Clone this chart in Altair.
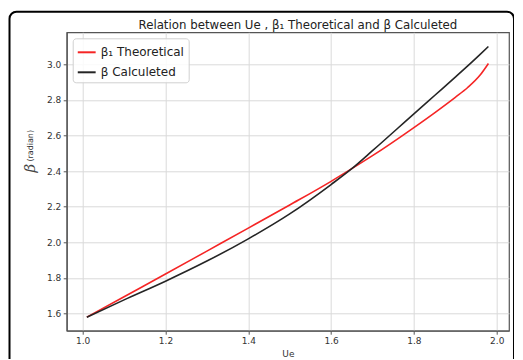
import altair as alt
import pandas as pd

ue = [1.01, 1.1, 1.2, 1.3, 1.4, 1.5, 1.6, 1.65, 1.7, 1.8, 1.85, 1.9, 1.93, 1.96, 1.98]
beta1_theoretical = [1.58, 1.695, 1.822, 1.951, 2.08, 2.21, 2.343, 2.414, 2.487, 2.645, 2.728, 2.815, 2.87, 2.94, 3.005]
beta_calculated = [1.58, 1.677, 1.782, 1.895, 2.02, 2.16, 2.325, 2.414, 2.515, 2.722, 2.825, 2.928, 2.991, 3.056, 3.10]
series_names = ["β₁ Theoretical", "β Calculeted"]
x_ticks = [1.0, 1.2, 1.4, 1.6, 1.8, 2.0]
y_ticks = [1.6, 1.8, 2.0, 2.2, 2.4, 2.6, 2.8, 3.0]
title_text = "Relation between Ue , β₁ Theoretical and β Calculeted"

rows = []
for i, u in enumerate(ue):
    rows.append({"Ue": u, "beta": beta1_theoretical[i], "series": series_names[0], "order": i})
    rows.append({"Ue": u, "beta": beta_calculated[i], "series": series_names[1], "order": i})
df = pd.DataFrame(rows)

W = 442.3
H = 298.4

lines = alt.Chart(df).mark_line(strokeWidth=1.6, interpolate="monotone").encode(
    x=alt.X("Ue:Q",
            scale=alt.Scale(domain=[0.9614, 2.0297], nice=False, zero=False),
            axis=alt.Axis(values=x_ticks, format=".1f", title="Ue", titlePadding=3.5,
                          titleFontSize=9, titleFontWeight="normal")),
    y=alt.Y("beta:Q",
            scale=alt.Scale(domain=[1.504, 3.18], nice=False, zero=False),
            axis=alt.Axis(values=y_ticks, format=".1f", title="(radian)",
                          titleFontSize=8, titleFontWeight="normal",
                          titleX=-36.7, titleY=113, titleAngle=270,
                          titleAlign="center", titleBaseline="middle")),
    color=alt.Color("series:N",
                    scale=alt.Scale(domain=series_names, range=["#f52525", "#252525"]),
                    legend=alt.Legend(title=None, orient="none", legendX=6, legendY=6,
                                      symbolType="stroke", symbolSize=320,
                                      symbolStrokeWidth=2, labelFontSize=12,
                                      labelFont="DejaVu Sans", labelColor="#222",
                                      rowPadding=4, padding=4,
                                      fillColor="rgba(255,255,255,0.85)",
                                      strokeColor="#d0d0d0", cornerRadius=3,
                                      labelOffset=4)),
    order="order:Q",
)

one = pd.DataFrame({"t": [title_text], "b": ["β"]})

frame = alt.Chart(one).mark_rect(
    fill=None, stroke="black", strokeWidth=2, cornerRadius=7, clip=False
).encode(
    x=alt.value(-57.2), x2=alt.value(W + 5),
    y=alt.value(-20.6), y2=alt.value(H + 45),
)

title = alt.Chart(one).mark_text(
    fontSize=11.8, font="DejaVu Sans", color="#222", align="center",
    baseline="middle", clip=False
).encode(
    text="t:N", x=alt.value(W / 2 + 10), y=alt.value(-7.5),
)

beta_label = alt.Chart(one).mark_text(
    fontSize=15, font="DejaVu Serif", fontStyle="italic", color="#444",
    align="center", baseline="middle", angle=270, clip=False
).encode(
    text="b:N", x=alt.value(-36.7), y=alt.value(136),
)

chart = alt.layer(lines, frame, title, beta_label).properties(
    width=W,
    height=H,
    autosize=alt.AutoSizeParams(type="none"),
    padding={"left": 58.7, "top": 24.3, "right": 5, "bottom": 28},
).configure_view(
    stroke="#555", strokeWidth=1.2
).configure_axis(
    domainColor="#555", domainWidth=1.2, gridColor="#dadada", gridWidth=1,
    tickColor="#555", tickSize=3.5, labelFontSize=9, labelColor="#333",
    labelFont="DejaVu Sans", titleFont="DejaVu Sans", titleColor="#333",
    labelPadding=2.5
)

chart.save("out.html", embed_options={"renderer": "svg", "actions": False})
